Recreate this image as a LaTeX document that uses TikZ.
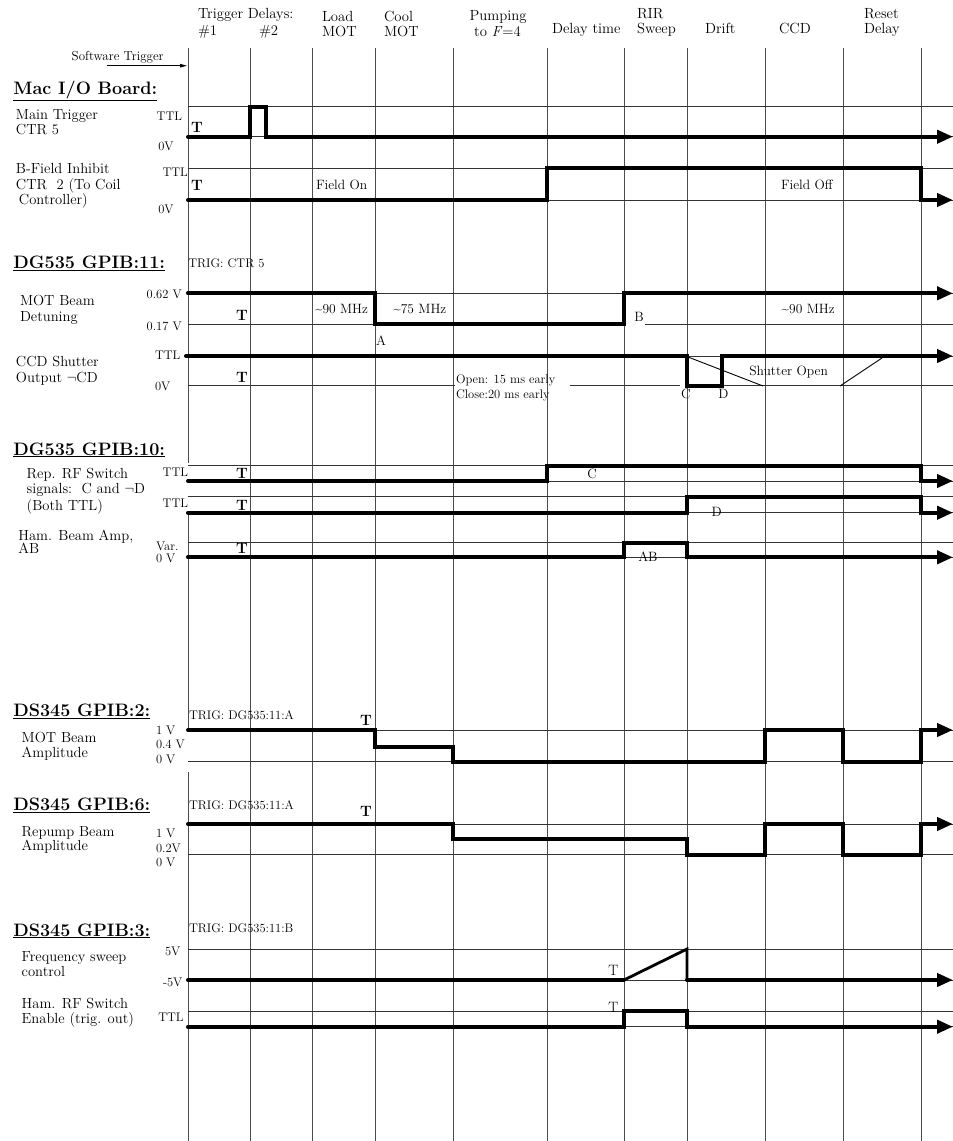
\documentclass[tikz,border=0pt]{standalone}
\usepackage{fontspec}
\usetikzlibrary{arrows.meta}
\begin{document}
\begin{tikzpicture}[x=1pt,y=-1pt,
  bl/.style={anchor=base west, inner sep=0pt, outer sep=0pt},
  bc/.style={anchor=base, inner sep=0pt, outer sep=0pt},
  hd/.style={font=\fontsize{14.7}{16}\selectfont},
  rl/.style={bl, font=\fontsize{14.6}{16}\selectfont},
  vl/.style={bl, font=\fontsize{12.5}{14}\selectfont},
  an/.style={bl, font=\fontsize{13.5}{15}\selectfont},
  tg/.style={bl, font=\fontsize{12.5}{14}\selectfont},
  ttl/.style={bl, font=\fontsize{18}{20}\selectfont\bfseries},
  tb/.style={bl, font=\fontsize{15}{16}\selectfont\bfseries},
  tr/.style={bl, font=\fontsize{15}{16}\selectfont},
  grid/.style={line width=0.9pt, black!70},
  hgrid/.style={line width=0.9pt, black!80},
  sig/.style={line width=4pt, line cap=round, line join=miter},
  sigar/.style={sig, -{Triangle[length=16pt,width=13pt]}},
]
\useasboundingbox (0,0) rectangle (953,1141);
\fill[white] (0,0) rectangle (953,1141);

% ---------- grid verticals ----------
\foreach \x in {250,312,375,453,547,624,687,765,843,921}
  \draw[grid] (\x,48) -- (\x,1141);
\draw[grid] (188,48) -- (188,463) (188,512) -- (188,730) (188,772) -- (188,1141);

% ---------- grid horizontals ----------
\foreach \y in {106.7,136.7,168.3,200,293.3,356,465.7,481,496.7,512.7,542.7,557.3,730,761.7,824,854.7,949,980,1011.3,1026.7}
  \draw[hgrid] (188,\y) -- (953,\y);
\draw[hgrid] (188,324.3) -- (624,324.3) (645,324.3) -- (953,324.3);
\draw[hgrid] (188,385.7) -- (455,385.7) (570,385.7) -- (680,385.7) (722,385.7) -- (953,385.7);

% ---------- header ----------
\node[bl,hd] (h1) at (198,18.5) {Trigger Delays:};
\node[bl,hd] (h1a) at (198,35) {\#1};
\node[bl,hd] (h1b) at (259,35) {\#2};
\node[bl,hd] (h2) at (322,21.5) {Load};
\node[bl,hd] (h2b) at (322,36.5) {MOT};
\node[bl,hd] (h3) at (384,21.5) {Cool};
\node[bl,hd] (h3b) at (384,36.5) {MOT};
\node[bc,hd] (h4) at (498,20.5) {Pumping};
\node[bc,hd] (h4b) at (497.5,36.5) {to \textit{F}=4};
\node[bl,hd] (h5) at (552,33.3) {Delay time};
\node[bl,hd] (h6) at (637,18.3) {RIR};
\node[bl,hd] (h6b) at (637,33.3) {Sweep};
\node[bl,hd] (h7) at (705,33.3) {Drift};
\node[bl,hd] (h8) at (779,33.3) {CCD};
\node[bl,hd] (h9) at (864,18.3) {Reset};
\node[bl,hd] (h9b) at (864,33.3) {Delay};

% software trigger
\node[bl,font=\fontsize{13}{14}\selectfont] (sw) at (71.7,60) {Software Trigger};
\coordinate (swa) at (106.7,65.7);
\coordinate (swb) at (187,65.7);
\draw[line width=0.8pt, -{Triangle[length=7pt,width=3.5pt]}] (swa) -- (swb);

% ---------- Mac I/O Board ----------
\node[ttl] (t1) at (13.3,94) {\underline{Mac I/O Board:}};
\node[rl] at (16,119.5) {Main Trigger};
\node[rl] at (16,134.5) {CTR 5};
\node[vl] at (156.7,120.5) {TTL};
\node[vl] at (158.3,150) {0V};
\node[tb] at (191,132.3) {T};
\draw[sigar] (188,136.7) -- (250,136.7) -- (250,106.7) -- (265.7,106.7) -- (265.7,136.7) -- (953,136.7);

\node[rl] at (16,173.3) {B-Field Inhibit};
\node[rl] at (16,189) {CTR\ \ 2 (To Coil};
\node[rl] at (19,204) {Controller)};
\node[vl] at (162.5,176) {TTL};
\node[vl] at (158.3,213) {0V};
\node[tb] at (191,190) {T};
\node[an] at (316,189) {Field On};
\node[an] at (781,189) {Field Off};
\draw[sigar] (188,200) -- (547,200) -- (547,168.3) -- (921,168.3) -- (921,200) -- (953,200);

% ---------- DG535 GPIB:11 ----------
\node[ttl] (t2) at (13.3,268.3) {\underline{DG535 GPIB:11:}};
\node[tg] at (188.3,267.3) {TRIG: CTR 5};
\node[rl] at (20,305.7) {MOT Beam};
\node[rl] at (20,321.7) {Detuning};
\node[vl] at (146.7,298.3) {0.62 V};
\node[vl] at (146.7,330) {0.17 V};
\node[tb] at (236,320) {T};
\node[an] at (315,313.3) {\textasciitilde90 MHz};
\node[an] at (393.3,313.3) {\textasciitilde75 MHz};
\node[an] at (376,345) {A};
\node[an] at (634.3,321.7) {B};
\node[an] at (781.7,313.3) {\textasciitilde90 MHz};
\draw[sigar] (188,293.3) -- (375,293.3) -- (375,324.3) -- (624,324.3) -- (624,293.3) -- (953,293.3);

\node[rl] at (16,366.7) {CCD Shutter};
\node[rl] at (16,382.7) {Output $\neg$CD};
\node[vl] at (155,359.3) {TTL};
\node[vl] at (155,390) {0V};
\node[tb] at (236,382.7) {T};
\node[tg] at (456,383.3) {Open: 15 ms early};
\node[tg] at (456,398.3) {Close:20 ms early};
\node[an] at (681,398.3) {C};
\node[an] at (718.3,398.3) {D};
\node[an] at (749.3,375) {Shutter Open};
\draw[line width=0.9pt] (688,357) -- (763,386);
\draw[line width=0.9pt] (840,386) -- (882,358);
\draw[sigar] (186,356) -- (687,356) -- (687,385.7) -- (722,385.7) -- (722,356) -- (953,356);

% ---------- DG535 GPIB:10 ----------
\node[ttl] (t3) at (13.3,455) {\underline{DG535 GPIB:10:}};
\node[rl] at (26.7,478.3) {Rep. RF Switch};
\node[rl] at (26.7,493.3) {signals:\ \ C and $\neg$D};
\node[rl] at (26.7,510) {(Both TTL)};
\node[vl] at (162.7,476.7) {TTL};
\node[vl] at (162.7,507.7) {TTL};
\node[tb] at (236,478.3) {T};
\node[tb] at (236,510) {T};
\node[an] at (587.3,478.3) {C};
\node[an] at (711.7,516.7) {D};
\draw[sigar] (188,481) -- (547,481) -- (547,465.7) -- (921,465.7) -- (921,481) -- (953,481);
\draw[sigar] (188,512.7) -- (687,512.7) -- (687,496.7) -- (921,496.7) -- (921,512.7) -- (953,512.7);

\node[rl] at (18.3,540) {Ham. Beam Amp,};
\node[rl] at (18.3,553.3) {AB};
\node[vl] at (156,550) {Var.};
\node[vl] at (156,562.7) {0 V};
\node[tb] at (236,553.3) {T};
\node[an] at (638.3,561.7) {AB};
\draw[sigar] (188,557.3) -- (624,557.3) -- (624,542.7) -- (687,542.7) -- (687,557.3) -- (953,557.3);

% ---------- DS345 GPIB:2 ----------
\node[ttl] (t4) at (13.3,716.7) {\underline{DS345 GPIB:2:}};
\node[tg] at (189,719) {TRIG: DG535:11:A};
\node[rl] at (21.7,742.7) {MOT Beam};
\node[rl] at (21.7,757.3) {Amplitude};
\node[vl] at (156,734.3) {1 V};
\node[vl] at (156,748.3) {0.4 V};
\node[vl] at (156,763.3) {0 V};
\node[tb] at (360,725.7) {T};
\draw[sigar] (188,730) -- (375,730) -- (375,746.7) -- (453,746.7) -- (453,761.7) -- (765,761.7) -- (765,730) -- (843,730) -- (843,761.7) -- (921,761.7) -- (921,730) -- (953,730);

% ---------- DS345 GPIB:6 ----------
\node[ttl] (t5) at (13.3,810.7) {\underline{DS345 GPIB:6:}};
\node[tg] at (189,809) {TRIG: DG535:11:A};
\node[rl] at (21.7,836) {Repump Beam};
\node[rl] at (21.7,850.7) {Amplitude};
\node[vl] at (156,837.3) {1 V};
\node[vl] at (156,852) {0.2V};
\node[vl] at (156,866) {0 V};
\node[tb] at (360,816.7) {T};
\draw[sigar] (188,824) -- (453,824) -- (453,839.3) -- (687,839.3) -- (687,854.7) -- (765,854.7) -- (765,824) -- (843,824) -- (843,854.7) -- (921,854.7) -- (921,824) -- (953,824);

% ---------- DS345 GPIB:3 ----------
\node[ttl] (t6) at (13.3,936) {\underline{DS345 GPIB:3:}};
\node[tg] at (189,932.7) {TRIG: DG535:11:B};
\node[rl] at (21.7,961.7) {Frequency sweep};
\node[rl] at (21.7,976) {control};
\node[vl] at (165,955) {5V};
\node[vl] at (163,986.7) {-5V};
\node[tr] at (608.3,975) {T};
\draw[sig] (188,980) -- (624,980);
\draw[line width=2.8pt, line join=miter] (624,980) -- (687,949) -- (687,980);
\draw[sigar] (687,980) -- (953,980);

\node[rl] at (21.7,1008.3) {Ham. RF Switch};
\node[rl] at (21.7,1023.3) {Enable (trig. out)};
\node[vl] at (158.3,1021.7) {TTL};
\node[tr] at (608.3,1012.7) {T};
\draw[sigar] (188,1026.7) -- (624,1026.7) -- (624,1011.3) -- (687,1011.3) -- (687,1026.7) -- (953,1026.7);
\end{tikzpicture}
\end{document}
